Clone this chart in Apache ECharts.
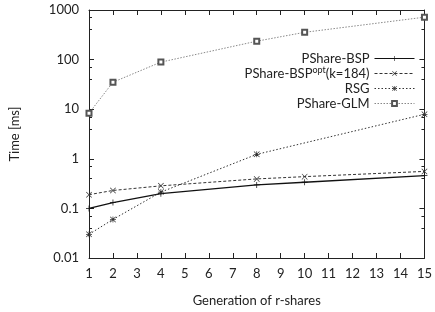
<!DOCTYPE html>
<html>
<head>
<meta charset="utf-8">
<script src="https://cdn.jsdelivr.net/npm/echarts@6/dist/echarts.min.js"></script>
<style>
  html, body { margin: 0; padding: 0; background: #fff; }
  #chart { width: 435px; height: 312px; }
</style>
</head>
<body>
<div id="chart"></div>
<script>
// r-share generation time, log y axis, gnuplot-style frame
var X_VALUES = [1, 2, 4, 8, 10, 15];
var BSP = [0.10, 0.131, 0.198, 0.298, 0.337, 0.457];
var BSP_OPT = [0.189, 0.23, 0.285, 0.393, 0.437, 0.557];
var RSG = [0.030, 0.060, 0.213, 1.23, 7.9];
var RSG_X = [1, 2, 4, 8, 15];
var GLM = [8.3, 35, 89, 235, 355, 716];
var Y_TICKS = [0.01, 0.1, 1, 10, 100, 1000];

var FONT = "Lato";
var INK = "#222";

var SYM_PLUS = "path://M0,4.4H10V5.6H0Z M4.4,0H5.6V10H4.4Z";
var SYM_X = "path://M0.8,0L5,4.2L9.2,0L10,0.8L5.8,5L10,9.2L9.2,10L5,5.8L0.8,10L0,9.2L4.2,5L0,0.8Z";
var SYM_STAR = SYM_X + " M0,4.4H10V5.6H0Z M4.4,0H5.6V10H4.4Z";

function pairs(xs, ys) {
  return ys.map(function (v, i) { return [xs[i], v]; });
}

function yLabel(v) {
  for (var i = 0; i < Y_TICKS.length; i++) {
    if (Math.abs(v - Y_TICKS[i]) / Y_TICKS[i] < 1e-6) return String(Y_TICKS[i]);
  }
  return "";
}

var tickIn = { show: true, inside: true, length: 5, lineStyle: { color: INK } };
var lineFrame = { show: true, onZero: false, lineStyle: { color: INK, width: 1 } };

var chart = echarts.init(document.getElementById("chart"));
chart.setOption({
  animation: false,
  textStyle: { fontFamily: FONT, color: INK },
  grid: { left: 85, right: 6, top: 10, bottom: 50 },
  legend: {
    orient: "vertical", right: 15, top: 46, align: "right",
    itemWidth: 40, itemHeight: 6, itemGap: 0,
    lineStyle: { width: 1 },
    textStyle: { fontFamily: FONT, fontSize: 13, color: INK, lineHeight: 15 },
    formatter: function (name) {
      if (name === "PShare-BSPopt") return "{a|PShare-BSP}{sup|opt}{a|(k=184)}";
      return name;
    },
    data: [
      "PShare-BSP",
      {
        name: "PShare-BSPopt",
        textStyle: {
          rich: {
            a: { fontFamily: FONT, fontSize: 13, color: INK, lineHeight: 15 },
            sup: { fontFamily: FONT, fontSize: 9, color: INK, lineHeight: 9, verticalAlign: "top" }
          }
        }
      },
      "RSG",
      "PShare-GLM"
    ]
  },
  xAxis: [
    {
      type: "value", min: 1, max: 15, interval: 1,
      name: "Generation of r-shares", nameLocation: "middle", nameGap: 36,
      nameTextStyle: { fontFamily: FONT, fontSize: 13, color: INK },
      axisLine: lineFrame, axisTick: tickIn,
      axisLabel: { fontFamily: FONT, fontSize: 13, color: INK, margin: 9 },
      splitLine: { show: false }
    },
    {
      type: "value", min: 1, max: 15, interval: 1, position: "top",
      axisLine: lineFrame, axisTick: tickIn,
      axisLabel: { show: false }, splitLine: { show: false }
    }
  ],
  yAxis: [
    {
      type: "log", logBase: 10, min: 0.01, max: 1000,
      name: "Time [ms]", nameLocation: "middle", nameGap: 68, nameRotate: 90,
      nameTextStyle: { fontFamily: FONT, fontSize: 13, color: INK },
      axisLine: lineFrame, axisTick: tickIn,
      minorTick: { show: true, splitNumber: 3, length: 3, lineStyle: { color: INK } },
      axisLabel: { fontFamily: FONT, fontSize: 13, color: INK, margin: 10, formatter: yLabel },
      splitLine: { show: false }
    },
    {
      type: "log", logBase: 10, min: 0.01, max: 1000, position: "right",
      axisLine: lineFrame, axisTick: tickIn,
      minorTick: { show: true, splitNumber: 3, length: 3, lineStyle: { color: INK } },
      axisLabel: { show: false }, splitLine: { show: false }
    }
  ],
  series: [
    {
      name: "PShare-BSP", type: "line", data: pairs(X_VALUES, BSP),
      symbol: SYM_PLUS, symbolSize: 6,
      lineStyle: { color: "#111", width: 1.3, type: "solid" },
      itemStyle: { color: "#111" }
    },
    {
      name: "PShare-BSPopt", type: "line", data: pairs(X_VALUES, BSP_OPT),
      symbol: SYM_X, symbolSize: 6,
      lineStyle: { color: "#333", width: 1, type: [3, 2] },
      itemStyle: { color: "#333" }
    },
    {
      name: "RSG", type: "line", data: pairs(RSG_X, RSG),
      symbol: SYM_STAR, symbolSize: 6,
      lineStyle: { color: "#333", width: 1, type: [1.5, 2] },
      itemStyle: { color: "#333" }
    },
    {
      name: "PShare-GLM", type: "line", data: pairs(X_VALUES, GLM),
      symbol: "emptyRect", symbolSize: 5,
      lineStyle: { color: "#888", width: 1, type: [1.5, 1.5] },
      itemStyle: { color: "#555", borderColor: "#555", borderWidth: 0.8 }
    }
  ]
});
</script>
</body>
</html>
